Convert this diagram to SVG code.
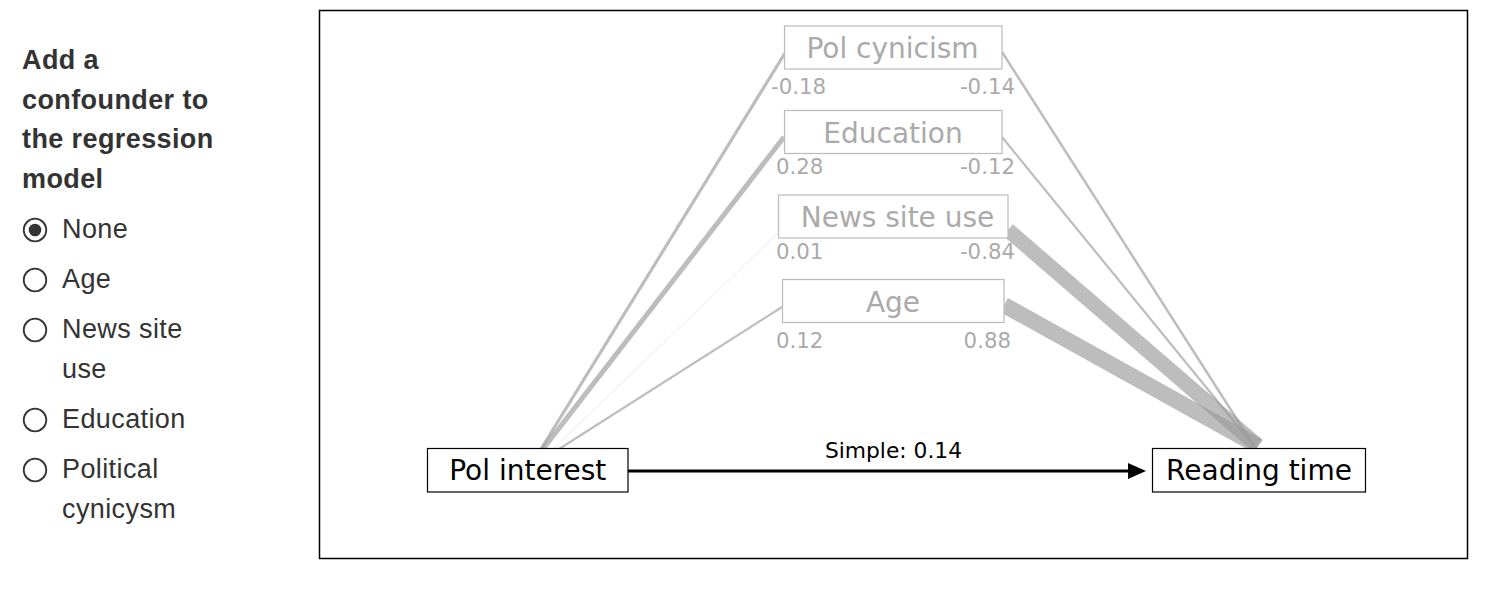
<svg xmlns="http://www.w3.org/2000/svg" width="1493" height="591" viewBox="0 0 1493 591">
<style>
.hd{font-family:"Liberation Sans",Arial,sans-serif;font-size:27px;font-weight:bold;fill:#333;letter-spacing:0.4px}
.opt{font-family:"Liberation Sans",Arial,sans-serif;font-size:27px;fill:#333;letter-spacing:0.4px}
.radio{fill:#fff;stroke:#333;stroke-width:1.8}
.gbox{fill:#fff;stroke:#bbb;stroke-width:1.2}
.bbox{fill:#fff;stroke:#000;stroke-width:1.2}
.gname{font-family:"DejaVu Sans",sans-serif;font-size:28px;fill:#aaa;text-anchor:middle}
.bname{font-family:"DejaVu Sans",sans-serif;font-size:28px;fill:#000;text-anchor:middle}
.coef{font-family:"DejaVu Sans",sans-serif;font-size:21.3px;fill:#aaa}
.path{stroke:#999;stroke-opacity:0.65;fill:none;stroke-linecap:butt}
</style>
<rect width="1493" height="591" fill="#fff"/>
<g id="controls">
<text class="hd" x="22" y="69">Add a</text>
<text class="hd" x="22" y="109">confounder to</text>
<text class="hd" x="22" y="148">the regression</text>
<text class="hd" x="22" y="188">model</text>
<circle class="radio" cx="35" cy="230" r="11.3"/>
<circle cx="35" cy="230" r="6.3" fill="#333"/>
<text class="opt" x="62" y="238">None</text>
<circle class="radio" cx="35" cy="280" r="11.3"/>
<text class="opt" x="62" y="288">Age</text>
<circle class="radio" cx="35" cy="330" r="11.3"/>
<text class="opt" x="62" y="338">News site</text>
<text class="opt" x="62" y="378">use</text>
<circle class="radio" cx="35" cy="420" r="11.3"/>
<text class="opt" x="62" y="428">Education</text>
<circle class="radio" cx="35" cy="470" r="11.3"/>
<text class="opt" x="62" y="478">Political</text>
<text class="opt" x="62" y="518">cynicysm</text>
</g>
<rect id="frame" x="319.5" y="10.5" width="1148" height="548" fill="none" stroke="#000" stroke-width="1.5"/>
<g id="connectors">
<line class="path" x1="541" y1="449" x2="785" y2="53" stroke-width="3.2"/>
<line class="path" x1="543" y1="449" x2="784" y2="137" stroke-width="5"/>
<line class="path" x1="553" y1="449" x2="779" y2="232" stroke-width="0.3"/>
<line class="path" x1="559" y1="449" x2="782" y2="307" stroke-width="2.2"/>
<line class="path" x1="1002" y1="52" x2="1254" y2="446" stroke-width="2.5"/>
<line class="path" x1="1002" y1="137" x2="1254" y2="446" stroke-width="2.2"/>
<line class="path" x1="1008" y1="230" x2="1258" y2="446" stroke-width="15"/>
<line class="path" x1="1004" y1="305" x2="1258" y2="446" stroke-width="16"/>
<line x1="628" y1="471" x2="1131" y2="471" stroke="#000" stroke-width="3"/>
<polygon points="1128,463 1146,471 1128,479" fill="#000"/>
<text x="893.5" y="458" font-family="DejaVu Sans, sans-serif" font-size="21.8" fill="#000" text-anchor="middle">Simple: 0.14</text>
</g>
<g id="node-polcynicism">
<rect class="gbox" x="784.5" y="26" width="217.5" height="43"/>
<text class="gname" x="892.5" y="57.5">Pol cynicism</text>
<text class="coef" x="771" y="93.5">-0.18</text>
<text class="coef" x="1015" y="93.5" text-anchor="end">-0.14</text>
</g>
<g id="node-education">
<rect class="gbox" x="784.5" y="110.5" width="217.5" height="43"/>
<text class="gname" x="893" y="143">Education</text>
<text class="coef" x="776" y="173.5">0.28</text>
<text class="coef" x="1015" y="173.5" text-anchor="end">-0.12</text>
</g>
<g id="node-newssiteuse">
<rect class="gbox" x="778.5" y="195" width="229.5" height="43"/>
<text class="gname" x="897.5" y="226.7">News site use</text>
<text class="coef" x="776" y="258.5">0.01</text>
<text class="coef" x="1015" y="258.5" text-anchor="end">-0.84</text>
</g>
<g id="node-age">
<rect class="gbox" x="782.5" y="279.5" width="221.5" height="43"/>
<text class="gname" x="893" y="311.7">Age</text>
<text class="coef" x="776" y="347.5">0.12</text>
<text class="coef" x="1011" y="347.5" text-anchor="end">0.88</text>
</g>
<g id="node-polinterest">
<rect class="bbox" x="427.5" y="448.5" width="200.5" height="43.5"/>
<text class="bname" x="527.8" y="480">Pol interest</text>
</g>
<g id="node-readingtime">
<rect class="bbox" x="1152.5" y="448.5" width="213" height="43.5"/>
<text class="bname" x="1259" y="480">Reading time</text>
</g>
</svg>
